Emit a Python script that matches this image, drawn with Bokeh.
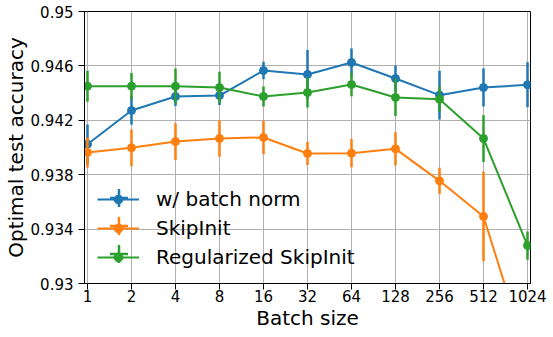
import numpy as np
from bokeh.plotting import figure
from bokeh.models import Range1d, FixedTicker, Legend, LegendItem
from bokeh.embed import file_html
from bokeh.resources import INLINE

batch_sizes = [1, 2, 4, 8, 16, 32, 64, 128, 256, 512, 1024]
x_tick_labels = ["1", "2", "4", "8", "16", "32", "64", "128", "256", "512", "1024"]
y_ticks = [0.93, 0.934, 0.938, 0.942, 0.946, 0.95]
y_tick_labels = ["0.93", "0.934", "0.938", "0.942", "0.946", "0.95"]

series_names = ["w/ batch norm", "SkipInit", "Regularized SkipInit"]
bn_mean = [0.94024, 0.94272, 0.94375, 0.94382, 0.94566, 0.94537, 0.94625, 0.94507, 0.94385, 0.94441, 0.94461]
bn_err = [0.00145, 0.00104, 0.0007, 0.0007, 0.00065, 0.0018, 0.00103, 0.00096, 0.00179, 0.00139, 0.00165]
skip_mean = [0.93963, 0.93998, 0.94044, 0.94066, 0.94074, 0.93956, 0.93958, 0.93990, 0.93755, 0.93493, 0.9246]
skip_err = [0.0011, 0.00135, 0.00135, 0.00134, 0.00123, 0.00085, 0.00104, 0.00123, 0.00096, 0.0033, 0.0015]
reg_mean = [0.94451, 0.94451, 0.94451, 0.94441, 0.94375, 0.94404, 0.94463, 0.94368, 0.94355, 0.94066, 0.93279]
reg_err = [0.00114, 0.00096, 0.0013, 0.00116, 0.00073, 0.0011, 0.00087, 0.00137, 0.00093, 0.00172, 0.00104]

colors = ["#1f77b4", "#ff7f0e", "#2ca02c"]
FONT = "DejaVu Sans"

p = figure(frame_width=446, frame_height=272, x_axis_type="log",
           x_range=Range1d(2 ** -0.068, 2 ** 10.068), y_range=Range1d(0.93, 0.95),
           output_backend="svg", toolbar_location=None,
           min_border_left=60, min_border_right=20, min_border_top=11, min_border_bottom=45)

p.background_fill_color = "white"
p.border_fill_color = "white"
p.outline_line_color = "black"
p.outline_line_width = 1
p.outline_line_alpha = 1

p.xaxis.ticker = FixedTicker(ticks=batch_sizes)
p.xaxis.major_label_overrides = {b: l for b, l in zip(batch_sizes, x_tick_labels)}
p.yaxis.ticker = FixedTicker(ticks=y_ticks)
p.yaxis.major_label_overrides = {t: l for t, l in zip(y_ticks, y_tick_labels)}
p.xgrid.ticker = FixedTicker(ticks=batch_sizes)
p.ygrid.ticker = FixedTicker(ticks=y_ticks)
for g in (p.xgrid, p.ygrid):
    g.grid_line_color = "#b0b0b0"
    g.grid_line_width = 1

p.xaxis.axis_label = "Batch size"
p.yaxis.axis_label = "Optimal test accuracy"
for ax in (p.xaxis, p.yaxis):
    ax.axis_line_color = "black"
    ax.major_tick_line_color = "black"
    ax.major_tick_out = 6
    ax.major_tick_in = 0
    ax.minor_tick_out = 0
    ax.minor_tick_in = 0
    ax.major_label_text_font = FONT
    ax.major_label_text_font_size = "15px"
    ax.major_label_text_color = "black"
    ax.axis_label_text_font = FONT
    ax.axis_label_text_font_size = "20px"
    ax.axis_label_text_font_style = "normal"
    ax.axis_label_text_color = "black"
p.xaxis.major_label_standoff = 0
p.xaxis.axis_label_standoff = 1
p.yaxis.major_label_standoff = 5
p.yaxis.axis_label_standoff = 0

means = [bn_mean, skip_mean, reg_mean]
errs = [bn_err, skip_err, reg_err]

items_main = []
bar_renderers = []
for name, m, e, c in zip(series_names, means, errs, colors):
    m = np.array(m)
    e = np.array(e)
    p.segment(x0=batch_sizes, y0=m - e, x1=batch_sizes, y1=m + e, line_color=c, line_width=2.5)
    ln = p.line(batch_sizes, m, line_color=c, line_width=2)
    sc = p.scatter(batch_sizes, m, marker="circle", size=8, fill_color=c, line_color=c)
    items_main.append(LegendItem(label=name, renderers=[ln, sc]))
    # zero-size crosses: invisible in the plot, used only as legend error-bar glyphs
    cr = p.scatter(batch_sizes, m, marker="cross", size=0, line_color=c, line_width=2.5)
    bar_renderers.append(cr)

bar_y = [63.5, 35.5, 7.5]
for cr, yy in zip(bar_renderers, bar_y):
    lg = Legend(items=[LegendItem(label=" ", renderers=[cr], index=0)], location=(11.5, yy),
                glyph_width=45, glyph_height=45, padding=0, margin=0,
                border_line_alpha=0, background_fill_alpha=0,
                label_text_alpha=0, label_text_font=FONT, label_text_font_size="10px",
                label_standoff=0)
    p.add_layout(lg, "center")

legend = Legend(items=items_main, location=(13, 14), glyph_width=42, glyph_height=22,
                label_height=22, spacing=5, padding=0, margin=0, label_standoff=17,
                border_line_alpha=0, background_fill_alpha=0,
                label_text_font=FONT, label_text_font_size="20px", label_text_color="black")
p.add_layout(legend, "center")

open("out.html", "w").write(file_html(p, INLINE))
